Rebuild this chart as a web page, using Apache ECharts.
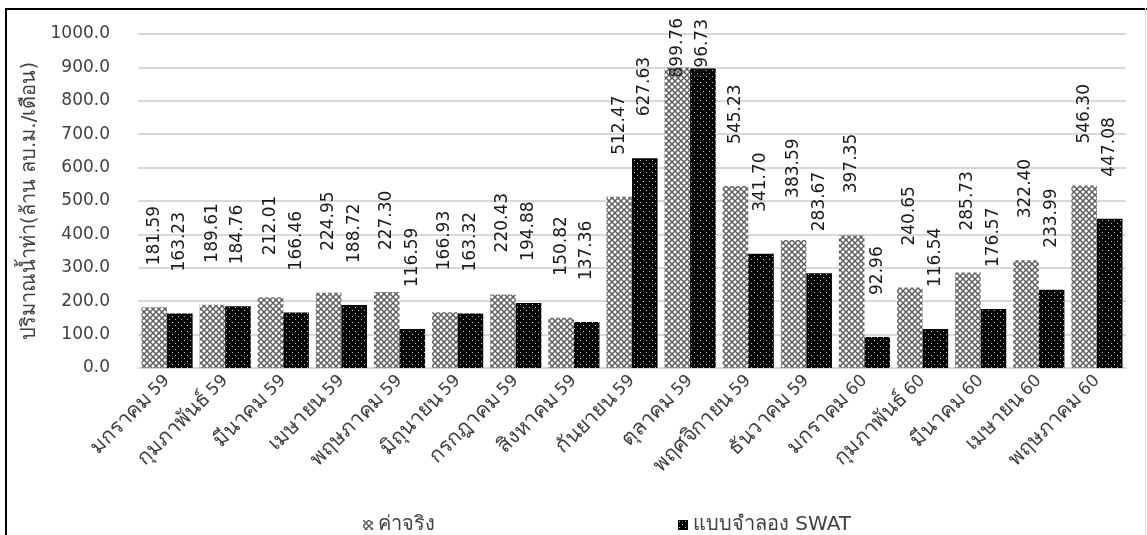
<!DOCTYPE html>
<html>
<head>
<meta charset="utf-8">
<script src="https://cdn.jsdelivr.net/npm/echarts@6/dist/echarts.min.js"></script>
<style>
  html, body { margin: 0; padding: 0; background: #fff; }
  #frame { position: absolute; left: 0; top: 0; width: 1147px; height: 535px; }
  #chart { position: absolute; left: 0; top: 0; width: 1147px; height: 535px; }
  #frame .bl { position: absolute; left: 5px; top: 8px; width: 2px; height: 527px; background: #000; }
  #frame .bt { position: absolute; left: 5px; top: 8px; width: 1142px; height: 2px; background: #000; }
  #frame .br { position: absolute; left: 1145px; top: 8px; width: 1px; height: 527px; background: #d9d9d9; }
</style>
</head>
<body>
<div id="chart"></div>
<div id="frame"><div class="bl"></div><div class="bt"></div><div class="br"></div></div>
<script>
// Monthly runoff: observed vs. SWAT simulated (million m³ / month)
const months = [
  'มกราคม 59', 'กุมภาพันธ์ 59', 'มีนาคม 59', 'เมษายน 59', 'พฤษภาคม 59',
  'มิถุนายน 59', 'กรกฎาคม 59', 'สิงหาคม 59', 'กันยายน 59', 'ตุลาคม 59',
  'พฤศจิกายน 59', 'ธันวาคม 59', 'มกราคม 60', 'กุมภาพันธ์ 60', 'มีนาคม 60',
  'เมษายน 60', 'พฤษภาคม 60'
];
const observed = [181.59, 189.61, 212.01, 224.95, 227.30, 166.93, 220.43, 150.82,
  512.47, 899.76, 545.23, 383.59, 397.35, 240.65, 285.73, 322.40, 546.30];
const simulated = [163.23, 184.76, 166.46, 188.72, 116.59, 163.32, 194.88, 137.36,
  627.63, 896.73, 341.70, 283.67, 92.96, 116.54, 176.57, 233.99, 447.08];
const seriesNames = ['ค่าจริง', 'แบบจำลอง SWAT'];
const yTicks = { min: 0, max: 1000, step: 100 };
const yTitle = 'ปริมาณน้ำท่า(ล้าน ลบ.ม./เดือน)';

const FONT = "'DejaVu Sans', 'Noto Sans', sans-serif";
const TEXT = '#404040';

// Fill patterns for the two series
function hatchPattern() {
  const c = document.createElement('canvas');
  c.width = 6; c.height = 6;
  const g = c.getContext('2d');
  g.fillStyle = '#ffffff';
  g.fillRect(0, 0, 6, 6);
  g.strokeStyle = '#5e5e5e';
  g.lineWidth = 1.5;
  g.beginPath();
  g.moveTo(0, 0); g.lineTo(6, 6);
  g.moveTo(6, 0); g.lineTo(0, 6);
  g.stroke();
  return c;
}
function dotPattern() {
  const c = document.createElement('canvas');
  c.width = 6; c.height = 6;
  const g = c.getContext('2d');
  g.fillStyle = '#000000';
  g.fillRect(0, 0, 6, 6);
  g.fillStyle = '#c8c8c8';
  g.fillRect(1, 1, 1, 1);
  g.fillRect(4, 4, 1, 1);
  return c;
}
const hatchFill = { image: hatchPattern(), repeat: 'repeat' };
const dotFill = { image: dotPattern(), repeat: 'repeat' };

// Tall October values would run past the frame; tuck their labels down
function withLabels(values) {
  return values.map(v => v > 800
    ? { value: v, label: { distance: -10, offset: [0, 0] } }
    : v);
}

// Month name in Thai is set a little larger than the year digits
function monthLabel(text) {
  const i = text.lastIndexOf(' ');
  return '{t|' + text.slice(0, i) + '} {d|' + text.slice(i + 1) + '}';
}

const chart = echarts.init(document.getElementById('chart'), null, { renderer: 'canvas' });

// Labels run upward; offset is in the rotated text frame (+x = up on screen)
const barLabel = {
  show: true,
  position: 'top',
  rotate: 90,
  align: 'left',
  verticalAlign: 'middle',
  distance: 29,
  offset: [13, 0],
  fontFamily: FONT,
  fontSize: 17,
  color: '#1a1a1a',
  formatter: p => p.value.toFixed(2)
};

const legendText = { fontFamily: FONT, fontSize: 20, color: TEXT };

chart.setOption({
  animation: false,
  textStyle: { fontFamily: FONT },
  grid: { left: 138, right: 21, top: 34, bottom: 167, containLabel: false },
  legend: [
    {
      data: [seriesNames[0]],
      left: 358, top: 510,
      itemWidth: 10, itemHeight: 10, itemGap: 8,
      icon: 'rect',
      textStyle: legendText
    },
    {
      data: [seriesNames[1]],
      left: 673, top: 510,
      itemWidth: 10, itemHeight: 10, itemGap: 8,
      icon: 'rect',
      textStyle: legendText
    }
  ],
  xAxis: {
    type: 'category',
    data: months,
    axisLine: { lineStyle: { color: '#d9d9d9', width: 2 } },
    axisTick: { show: false },
    axisLabel: {
      rotate: 45,
      margin: 10,
      interval: 0,
      color: TEXT,
      formatter: monthLabel,
      rich: {
        t: { fontFamily: FONT, fontSize: 21, color: TEXT },
        d: { fontFamily: FONT, fontSize: 17, color: TEXT }
      }
    }
  },
  yAxis: {
    type: 'value',
    min: yTicks.min,
    max: yTicks.max,
    interval: yTicks.step,
    name: yTitle,
    nameLocation: 'middle',
    nameGap: 96,
    nameTextStyle: { fontFamily: FONT, fontSize: 20, color: TEXT },
    axisLine: { show: false },
    axisTick: { show: false },
    splitLine: { lineStyle: { color: '#d9d9d9', width: 2 } },
    axisLabel: {
      margin: 28,
      fontFamily: FONT,
      fontSize: 17,
      color: TEXT,
      formatter: v => v.toFixed(1)
    }
  },
  series: [
    {
      name: seriesNames[0],
      type: 'bar',
      data: withLabels(observed),
      barGap: '0%',
      barCategoryGap: '12%',
      itemStyle: { color: hatchFill },
      label: barLabel
    },
    {
      name: seriesNames[1],
      type: 'bar',
      data: withLabels(simulated),
      itemStyle: { color: dotFill },
      label: barLabel
    }
  ]
});
</script>
</body>
</html>
